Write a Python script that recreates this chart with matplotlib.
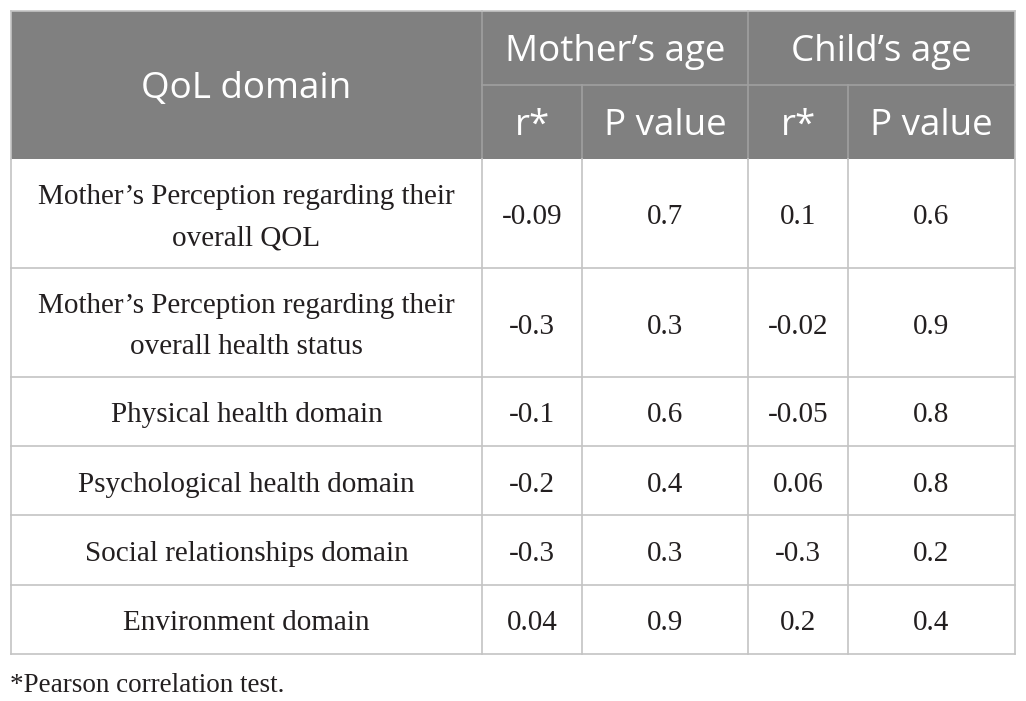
import matplotlib
matplotlib.use("Agg")
import matplotlib.pyplot as plt
from matplotlib.patches import Rectangle

# ---- data ----
domains = [
    "Mother\u2019s Perception regarding their\noverall QOL",
    "Mother\u2019s Perception regarding their\noverall health status",
    "Physical health domain",
    "Psychological health domain",
    "Social relationships domain",
    "Environment domain",
]
mother_r = ["-0.09", "-0.3", "-0.1", "-0.2", "-0.3", "0.04"]
mother_p = ["0.7", "0.3", "0.6", "0.4", "0.3", "0.9"]
child_r = ["0.1", "-0.02", "-0.05", "0.06", "-0.3", "0.2"]
child_p = ["0.6", "0.9", "0.8", "0.8", "0.2", "0.4"]
group_headers = ["Mother\u2019s age", "Child\u2019s age"]
sub_headers = ["r*", "P value", "r*", "P value"]
first_header = "QoL domain"
footnote = "*Pearson correlation test."

# ---- layout (pixel units) ----
W, H = 1026, 701
col_edges = [11, 482, 582, 748, 848, 1015]
top, mid_head, head_bottom = 11, 85, 159
row_bottoms = [268, 377, 446, 515, 585, 654]

header_bg = "#808080"
grid_col = "#c4c4c4"
text_col = "#231f20"
head_font = ["Open Sans", "DejaVu Sans"]
body_font = ["Liberation Serif", "DejaVu Serif"]

fig = plt.figure(figsize=(W / 100, H / 100), dpi=100)
ax = fig.add_axes([0, 0, 1, 1])
ax.set_xlim(0, W)
ax.set_ylim(H, 0)
ax.axis("off")

# header background
ax.add_patch(Rectangle((col_edges[0], top), col_edges[-1] - col_edges[0],
                       head_bottom - top, facecolor=header_bg, edgecolor="none"))

# header grid lines (lighter lines on grey)
hl = "#a0a0a0"
ax.plot([col_edges[1], col_edges[-1]], [mid_head, mid_head], color=hl, lw=1.2)
ax.plot([col_edges[1], col_edges[1]], [top, head_bottom], color=hl, lw=1.2)
ax.plot([col_edges[3], col_edges[3]], [top, head_bottom], color=hl, lw=1.2)
ax.plot([col_edges[2], col_edges[2]], [mid_head, head_bottom], color=hl, lw=1.2)
ax.plot([col_edges[4], col_edges[4]], [mid_head, head_bottom], color=hl, lw=1.2)
ax.plot([col_edges[0], col_edges[-1]], [top, top], color=grid_col, lw=1.2)
ax.plot([col_edges[0], col_edges[0]], [top, head_bottom], color=grid_col, lw=1.2)
ax.plot([col_edges[-1], col_edges[-1]], [top, head_bottom], color=grid_col, lw=1.2)

# header text
hs = 26.5
hdy = 4
ax.text((col_edges[0] + col_edges[1]) / 2, (top + head_bottom) / 2 + hdy, first_header,
        ha="center", va="center", color="white", fontsize=hs, family=head_font)
for i, g in enumerate(group_headers):
    x0, x1 = col_edges[1 + 2 * i], col_edges[3 + 2 * i]
    ax.text((x0 + x1) / 2, (top + mid_head) / 2 + hdy, g, ha="center", va="center",
            color="white", fontsize=hs, family=head_font)
for i, s in enumerate(sub_headers):
    x0, x1 = col_edges[1 + i], col_edges[2 + i]
    ax.text((x0 + x1) / 2, (mid_head + head_bottom) / 2 + hdy, s, ha="center", va="center",
            color="white", fontsize=hs, family=head_font)

# body grid
for rb in row_bottoms:
    ax.plot([col_edges[0], col_edges[-1]], [rb, rb], color=grid_col, lw=1.2)
for xe in col_edges:
    ax.plot([xe, xe], [head_bottom, row_bottoms[-1]], color=grid_col, lw=1.2)

# body text
bs = 21
bdy = 4
cols = [mother_r, mother_p, child_r, child_p]
prev = head_bottom
for r, rb in enumerate(row_bottoms):
    yc = (prev + rb) / 2 + bdy
    ax.text((col_edges[0] + col_edges[1]) / 2, yc, domains[r], ha="center", va="center",
            color=text_col, fontsize=bs, family=body_font, linespacing=1.78)
    for c, vals in enumerate(cols):
        ax.text((col_edges[1 + c] + col_edges[2 + c]) / 2, yc, vals[r], ha="center",
                va="center", color=text_col, fontsize=bs, family=body_font)
    prev = rb

ax.text(col_edges[0] - 1, 686, footnote, ha="left", va="center", color=text_col,
        fontsize=19.5, family=body_font)

fig.savefig("out.png", dpi=100, facecolor="white")
